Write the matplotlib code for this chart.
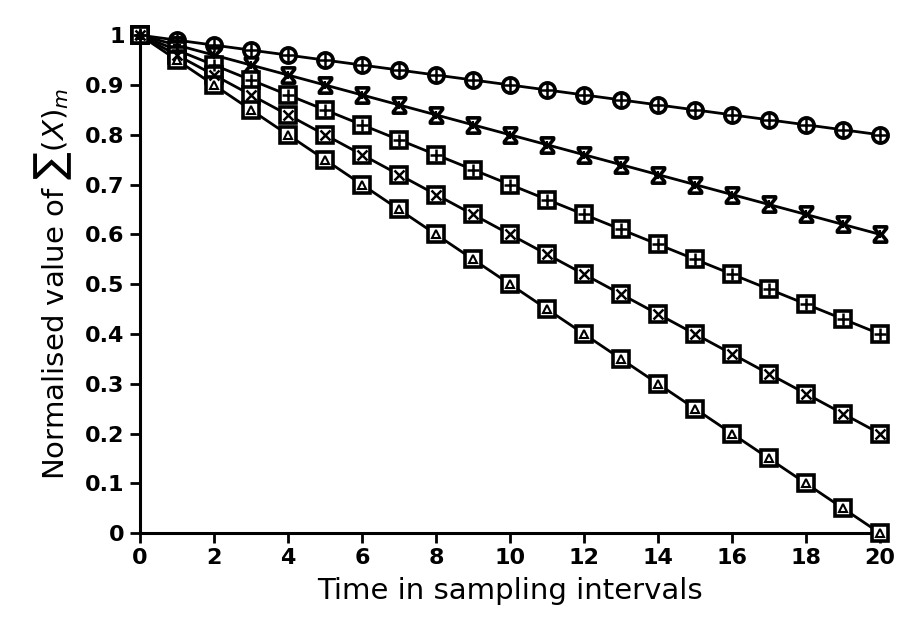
import matplotlib
matplotlib.use("Agg")
import matplotlib.pyplot as plt
from matplotlib.path import Path

t = list(range(21))
s_circle_plus = [1.00, 0.99, 0.98, 0.97, 0.96, 0.95, 0.94, 0.93, 0.92, 0.91, 0.90,
                 0.89, 0.88, 0.87, 0.86, 0.85, 0.84, 0.83, 0.82, 0.81, 0.80]
s_hourglass = [1.00, 0.98, 0.96, 0.94, 0.92, 0.90, 0.88, 0.86, 0.84, 0.82, 0.80,
               0.78, 0.76, 0.74, 0.72, 0.70, 0.68, 0.66, 0.64, 0.62, 0.60]
s_square_plus = [1.00, 0.97, 0.94, 0.91, 0.88, 0.85, 0.82, 0.79, 0.76, 0.73, 0.70,
                 0.67, 0.64, 0.61, 0.58, 0.55, 0.52, 0.49, 0.46, 0.43, 0.40]
s_square_x = [1.00, 0.96, 0.92, 0.88, 0.84, 0.80, 0.76, 0.72, 0.68, 0.64, 0.60,
              0.56, 0.52, 0.48, 0.44, 0.40, 0.36, 0.32, 0.28, 0.24, 0.20]
s_square_tri = [1.00, 0.95, 0.90, 0.85, 0.80, 0.75, 0.70, 0.65, 0.60, 0.55, 0.50,
                0.45, 0.40, 0.35, 0.30, 0.25, 0.20, 0.15, 0.10, 0.05, 0.00]

xticks = [0, 2, 4, 6, 8, 10, 12, 14, 16, 18, 20]
yticks = [0, 0.1, 0.2, 0.3, 0.4, 0.5, 0.6, 0.7, 0.8, 0.9, 1]
ytick_labels = ["0", "0.1", "0.2", "0.3", "0.4", "0.5", "0.6", "0.7", "0.8", "0.9", "1"]

fig = plt.figure(figsize=(8.97, 6.28), dpi=100)
ax = fig.add_axes([0.156, 0.151, 0.825, 0.793])

hourglass = Path([(-0.8, 1), (0.8, 1), (0.8, 0.8), (0.15, 0), (0.8, -0.8), (0.8, -1),
                  (-0.8, -1), (-0.8, -0.8), (-0.15, 0), (-0.8, 0.8), (-0.8, 1)],
                 [Path.MOVETO] + [Path.LINETO] * 9 + [Path.CLOSEPOLY])

lw = 2.0
ms = 11
common = dict(color="black", clip_on=False)

def series(y, outer, inner, inner_ms, inner_mew=1.8):
    ax.plot(t, y, '-', lw=lw, marker=outer, ms=ms, mfc='white', mec='black',
            mew=2.6, zorder=3, **common)
    ax.plot(t, y, linestyle='none', marker=inner, ms=inner_ms, mfc='none', mec='black',
            mew=inner_mew, zorder=4, **common)

series(s_circle_plus, 'o', '+', ms * 0.95)
ax.plot(t, s_hourglass, '-', lw=lw, marker=hourglass, ms=ms, mfc='white',
        mec='black', mew=2.6, zorder=3, **common)
ax.plot(t, s_hourglass, linestyle='none', marker='+', ms=ms * 0.5, mec='black',
        mew=1.5, zorder=4, **common)
series(s_square_plus, 's', '+', ms * 0.85)
series(s_square_x, 's', 'x', ms * 0.7)
series(s_square_tri, 's', '^', ms * 0.55, 1.5)

ax.set_xlim(0, 20)
ax.set_ylim(0, 1)
ax.set_xticks(xticks)
ax.set_yticks(yticks)
ax.set_yticklabels(ytick_labels)
for lab in ax.get_xticklabels() + ax.get_yticklabels():
    lab.set_fontweight('bold')
    lab.set_fontsize(16)
ax.tick_params(direction='out', length=7, width=2, pad=4)
ax.spines['top'].set_visible(False)
ax.spines['right'].set_visible(False)
ax.spines['left'].set_linewidth(2.2)
ax.spines['bottom'].set_linewidth(2.2)

ax.set_xlabel("Time in sampling intervals", fontsize=21, labelpad=6)
ax.set_ylabel(r"Normalised value of $\sum(X)_m$", fontsize=21, labelpad=8)

fig.savefig("out.png", dpi=100)
